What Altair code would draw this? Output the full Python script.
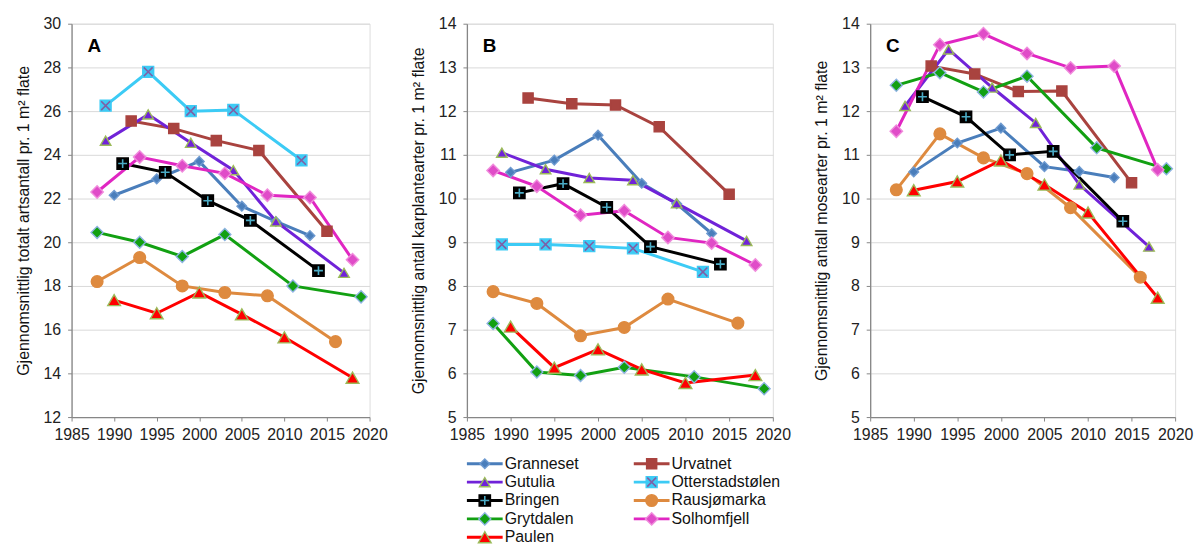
import altair as alt
import pandas as pd

FONT = "Liberation Sans"

sites = ["Granneset", "Urvatnet", "Gutulia", "Otterstadstølen", "Bringen",
         "Rausjømarka", "Grytdalen", "Solhomfjell", "Paulen"]

# sampling years per site
yr_granneset = [1990, 1995, 2000, 2005, 2009, 2013]
yr_urvatnet = [1992, 1997, 2002, 2007, 2015]
yr_gutulia = [1989, 1994, 1999, 2004, 2009, 2017]
yr_otterstad = [1989, 1994, 1999, 2004, 2012]
yr_bringen = [1991, 1996, 2001, 2006, 2014]
yr_rausjo = [1988, 1993, 1998, 2003, 2008, 2016]
yr_grytdalen = [1988, 1993, 1998, 2003, 2011, 2019]
yr_solhom = [1988, 1993, 1998, 2003, 2008, 2013, 2018]
yr_paulen = [1990, 1995, 2000, 2005, 2010, 2018]

# A: total species per 1 m2
a_granneset = [22.15, 22.9, 23.7, 21.65, 20.95, 20.3]
a_urvatnet = [25.55, 25.2, 24.65, 24.2, 20.5]
a_gutulia = [24.65, 25.85, 24.55, 23.3, 20.95, 18.6]
a_otterstad = [26.25, 27.8, 26.0, 26.05, 23.75]
a_bringen = [23.6, 23.2, 21.9, 21.0, 18.7]
a_rausjo = [18.2, 19.3, 18.0, 17.7, 17.55, 15.45]
a_grytdalen = [20.45, 20.0, 19.35, 20.35, 18.0, 17.5]
a_solhom = [22.3, 23.9, 23.5, 23.15, 22.15, 22.05, 19.2]
a_paulen = [17.35, 16.75, 17.7, 16.7, 15.65, 13.8]

# B: vascular plants per 1 m2
b_granneset = [10.6, 10.88, 11.45, 10.35, 9.88, 9.2]
b_urvatnet = [12.3, 12.17, 12.14, 11.64, 10.1]
b_gutulia = [11.05, 10.67, 10.47, 10.42, 9.89, 9.03]
b_otterstad = [8.95, 8.95, 8.91, 8.86, 8.32]
b_bringen = [10.13, 10.34, 9.8, 8.9, 8.5]
b_rausjo = [7.87, 7.6, 6.86, 7.05, 7.7, 7.15]
b_grytdalen = [7.14, 6.03, 5.95, 6.14, 5.92, 5.65]
b_solhom = [10.64, 10.28, 9.62, 9.72, 9.11, 8.98, 8.48]
b_paulen = [7.07, 6.13, 6.55, 6.09, 5.78, 5.96]

# C: mosses per 1 m2
c_granneset = [10.61, 11.27, 11.61, 10.73, 10.62, 10.48]
c_urvatnet = [13.03, 12.85, 12.45, 12.46, 10.36]
c_gutulia = [12.12, 13.41, 12.54, 11.73, 10.32, 8.9]
c_bringen = [12.33, 11.87, 11.0, 11.08, 9.48]
c_rausjo = [10.2, 11.48, 10.93, 10.57, 9.79, 8.2]
c_grytdalen = [12.59, 12.88, 12.44, 12.8, 11.16, 10.68]
c_solhom = [11.54, 13.52, 13.77, 13.32, 12.99, 13.03, 10.66]
c_paulen = [10.19, 10.39, 10.87, 10.32, 9.68, 7.73]

site_years = {
    "Granneset": yr_granneset, "Urvatnet": yr_urvatnet, "Gutulia": yr_gutulia,
    "Otterstadstølen": yr_otterstad, "Bringen": yr_bringen, "Rausjømarka": yr_rausjo,
    "Grytdalen": yr_grytdalen, "Solhomfjell": yr_solhom, "Paulen": yr_paulen,
}
panel_values = {
    "A": {"Granneset": a_granneset, "Urvatnet": a_urvatnet, "Gutulia": a_gutulia,
          "Otterstadstølen": a_otterstad, "Bringen": a_bringen, "Rausjømarka": a_rausjo,
          "Grytdalen": a_grytdalen, "Solhomfjell": a_solhom, "Paulen": a_paulen},
    "B": {"Granneset": b_granneset, "Urvatnet": b_urvatnet, "Gutulia": b_gutulia,
          "Otterstadstølen": b_otterstad, "Bringen": b_bringen, "Rausjømarka": b_rausjo,
          "Grytdalen": b_grytdalen, "Solhomfjell": b_solhom, "Paulen": b_paulen},
    "C": {"Granneset": c_granneset, "Urvatnet": c_urvatnet, "Gutulia": c_gutulia,
          "Bringen": c_bringen, "Rausjømarka": c_rausjo,
          "Grytdalen": c_grytdalen, "Solhomfjell": c_solhom, "Paulen": c_paulen},
}

rows = []
for p, vals in panel_values.items():
    for s, v in vals.items():
        for y, val in zip(site_years[s], v):
            rows.append({"panel": p, "site": s, "year": y, "value": val})
df = pd.DataFrame(rows)

legend_df = pd.DataFrame({"site": sites,
                          "col": [i % 2 for i in range(len(sites))],
                          "row": [i // 2 for i in range(len(sites))]})

line_colors = ["#4A7EBB", "#A9433F", "#7022D8", "#3CCBF5", "#000000",
               "#DE8A3F", "#12A012", "#E026C2", "#FF0000"]
fill_colors = ["#4A7EBB", "#A9433F", "#7022D8", "#3CCBF5", "#000000",
               "#DE8A3F", "#12A012", "#E04CC8", "#FF0000"]
edge_colors = ["#6E9AD0", "#A9433F", "#9BBB59", "#3CCBF5", "#000000",
               "#DE8A3F", "#8DB3E2", "#F08CDC", "#9BBB59"]
shapes = ["diamond", "square", "triangle-up", "square", "square",
          "circle", "diamond", "diamond", "triangle-up"]
sizes = [95, 165, 210, 125, 140, 150, 95, 95, 210]

color_scale = alt.Scale(domain=sites, range=line_colors)
fill_scale = alt.Scale(domain=sites, range=fill_colors)
stroke_scale = alt.Scale(domain=sites, range=edge_colors)
shape_scale = alt.Scale(domain=sites, range=shapes)
size_scale = alt.Scale(domain=sites, range=sizes)

X_PATH = "M-1,-1L1,1M-1,1L1,-1"
PLUS_PATH = "M-1,0L1,0M0,-1L0,1"


def marker_layers(base, x, y, x_off=0):
    pts = base.mark_point(filled=True, opacity=1, strokeWidth=1.4, xOffset=x_off).encode(
        x=x, y=y,
        fill=alt.Fill("site:N", scale=fill_scale, legend=None),
        stroke=alt.Stroke("site:N", scale=stroke_scale, legend=None),
        shape=alt.Shape("site:N", scale=shape_scale, legend=None),
        size=alt.Size("site:N", scale=size_scale, legend=None),
    )
    ox = base.transform_filter(alt.datum.site == "Otterstadstølen").mark_point(
        shape=X_PATH, filled=False, stroke="#7E5FA6", strokeWidth=1.6, size=80,
        opacity=1, xOffset=x_off).encode(x=x, y=y)
    px = base.transform_filter(alt.datum.site == "Bringen").mark_point(
        shape=PLUS_PATH, filled=False, stroke="#4BACC6", strokeWidth=1.6, size=80,
        opacity=1, xOffset=x_off).encode(x=x, y=y)
    return [pts, ox, px]


def panel(name, ymin, ymax, step, ytitle, width, with_legend=False):
    d = df[df.panel == name]
    base = alt.Chart(d)
    x = alt.X("year:Q", scale=alt.Scale(domain=[1985, 2020], nice=False, zero=False),
              axis=alt.Axis(values=list(range(1985, 2021, 5)), format="d", grid=False,
                            title=None, labelFlush=False, labelOverlap=False,
                            labelPadding=6))
    vals = []
    v = ymin
    while v <= ymax + 1e-9:
        vals.append(v)
        v += step
    y = alt.Y("value:Q", scale=alt.Scale(domain=[ymin, ymax], nice=False, zero=False),
              axis=alt.Axis(values=vals, title=ytitle, grid=True, labelPadding=7,
                            titlePadding=12, labelFlush=False))
    lines = base.mark_line(strokeWidth=3).encode(
        x=x, y=y,
        color=alt.Color("site:N", scale=color_scale, legend=None),
        order="year:Q",
    )
    letter = alt.Chart(pd.DataFrame({"t": [name]})).mark_text(
        font=FONT, fontWeight="bold", fontSize=19, align="left", baseline="middle",
        color="#000000").encode(text="t:N", x=alt.value(16), y=alt.value(22))
    data_layer = alt.layer(lines, *marker_layers(base, x, y), letter)
    if not with_legend:
        return data_layer.properties(width=width, height=396)

    leg = alt.Chart(legend_df)
    lx = alt.X("col:Q", scale=alt.Scale(domain=[0, 1], range=[0, 168]), axis=None)
    ly = alt.Y("row:Q", scale=alt.Scale(domain=[0, 4], range=[443, 517]), axis=None)
    leg_line = leg.mark_rule(strokeWidth=3, x2Offset=36).encode(
        x=lx, x2="col:Q", y=ly,
        color=alt.Color("site:N", scale=color_scale, legend=None))
    leg_text = leg.mark_text(align="left", baseline="middle", xOffset=38, fontSize=16,
                             font=FONT, color="#111111").encode(x=lx, y=ly, text="site:N")
    legend_layer = alt.layer(leg_line, *marker_layers(leg, lx, ly, x_off=18), leg_text)
    return alt.layer(data_layer, legend_layer).resolve_scale(
        x="independent", y="independent").properties(width=width, height=396)


chart_a = panel("A", 12, 30, 2, "Gjennomsnittlig totalt artsantall pr. 1 m² flate", 300)
chart_b = panel("B", 5, 14, 1, "Gjennomsnittlig antall karplantearter pr. 1 m² flate", 308,
                with_legend=True)
chart_c = panel("C", 5, 14, 1, "Gjennomsnittlig antall mosearter pr. 1 m² flate", 307)

chart = alt.hconcat(chart_a, chart_b, chart_c, spacing=21).properties(
    padding={"left": 6, "top": 5, "right": 0, "bottom": 0}
).configure_view(stroke=None).configure(font=FONT).configure_axis(
    labelFont=FONT, titleFont=FONT, labelFontSize=16, titleFontSize=16,
    titleFontWeight="normal", labelColor="#222222", titleColor="#111111",
    domainColor="#868686", tickColor="#868686", gridColor="#D9D9D9",
    tickSize=4, domainWidth=1.3,
)

chart.save("out.html", embed_options={"renderer": "svg", "actions": False})
